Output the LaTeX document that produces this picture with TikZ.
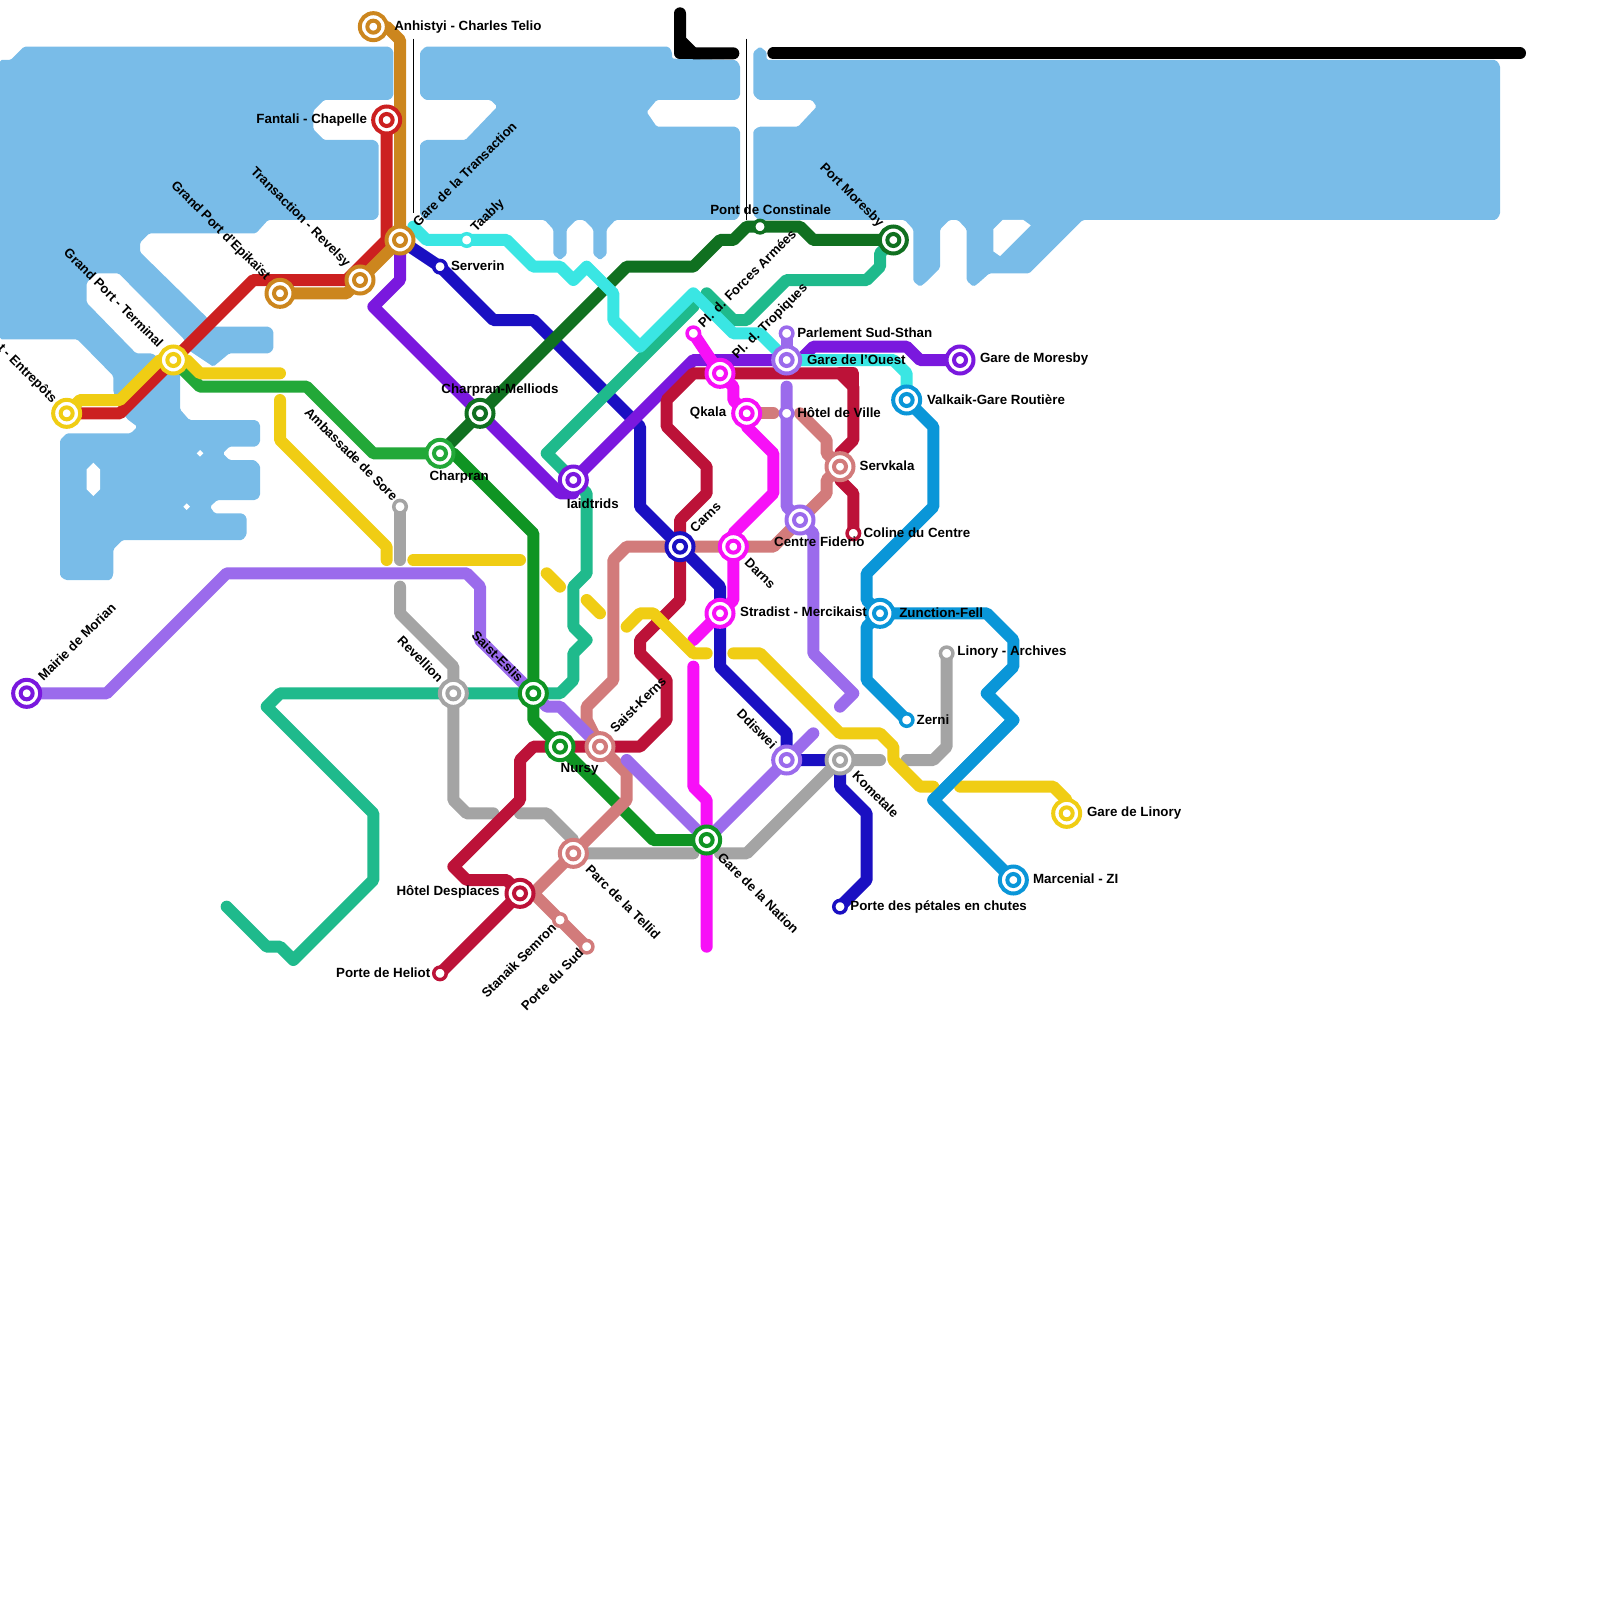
\documentclass[tikz,border=0pt]{standalone}
\usepackage{fontspec}
\setmainfont{Liberation Sans}
\definecolor{water}{HTML}{79BCE8}
\definecolor{cred}{HTML}{CC2020}
\definecolor{corange}{HTML}{CC861E}
\definecolor{cpurple}{HTML}{7A18DE}
\definecolor{ccyan}{HTML}{3AE6E3}
\definecolor{cdkblue}{HTML}{1A0FC2}
\definecolor{cdkgreen}{HTML}{107020}
\definecolor{cgreen}{HTML}{22A838}
\definecolor{cgreenb}{HTML}{0F9423}
\definecolor{cyellow}{HTML}{F0CD14}
\definecolor{clav}{HTML}{9B6BEC}
\definecolor{cgray}{HTML}{A4A4A4}
\definecolor{cteal}{HTML}{1FBA8C}
\definecolor{ccrim}{HTML}{BC1238}
\definecolor{csalmon}{HTML}{D27B7B}
\definecolor{cmag}{HTML}{F710F7}
\definecolor{cblue}{HTML}{0A96D8}
\tikzset{
  metro/.style={line width=6pt,line cap=round,line join=round,draw=#1},
  stouter/.style={circle,inner sep=0pt,minimum size=13.5pt,line width=2pt,draw=#1,fill=white},
  stinner/.style={circle,inner sep=0pt,minimum size=6pt,line width=2pt,draw=#1,fill=white},
  stsmall/.style={circle,inner sep=0pt,minimum size=6.25pt,line width=1.75pt,draw=#1,fill=white},
  lab/.style={font=\fontsize{6.67pt}{8pt}\selectfont\bfseries,inner sep=0pt,text=black,yshift=-0.7pt},
  labr/.style={font=\fontsize{6.55pt}{8pt}\selectfont\bfseries,inner sep=0pt,text=black},
  labE/.style={lab,anchor=west},
  labW/.style={lab,anchor=east},
  labNE/.style={labr,anchor=west,rotate=45},
  labSE/.style={labr,anchor=west,rotate=-45},
  labNW/.style={labr,anchor=east,rotate=-45},
  labSW/.style={labr,anchor=east,rotate=45},
  labC/.style={lab,anchor=center},
  wat/.style={fill=water,rounded corners=0.8pt}
}
\newcommand{\bigst}[2]{\node[stouter=#2] (#1o) at (#1) {};\node[stinner=#2] (#1i) at (#1) {};}
\newcommand{\smallst}[2]{\node[stsmall=#2] (#1s) at (#1) {};}
\begin{document}
\begin{tikzpicture}[x=6.66667pt,y=-6.66667pt]
\useasboundingbox (0,0) rectangle (120,120);
\clip (0,0) rectangle (120,120);
% stations
\foreach \n/\c/\r in {Anh/28/2,Fan/29/9,GTr/30/18,Rev/27/21,Epi/21/22,Ter/13/27,Ent/5/31,Cha/33/34,Mel/36/31,Iai/43/36,Taa/35/18,Ser/33/20,Pon/57/17,PMo/67/18,For/52/25,Tro/54/28,Qka/56/31,HdV/59/31,Par/59/25,GOu/59/27,GMo/72/27,Val/68/30,Svk/63/35,Col/64/40,Fid/60/39,Dar/55/41,Car/51/41,Str/54/46,Zun/66/46,LiA/71/49,Zer/68/54,Kom/63/57,Ddi/59/57,Nat/53/63,Esl/40/52,Rvl/34/52,Mai/2/52,Nur/42/56,Ker/45/56,Tel/43/64,Des/39/67,Sta/42/69,Sud/44/71,Hel/33/73,Pet/63/68,Mar/76/66,GLi/80/61,Sor/30/38}
  {\coordinate (\n) at (\c,\r);}
% water
\path[wat] (0,4.5)--(0.8,4.5)--(1.8,3.5)--(29.2,3.5)--(29.5,3.8)--(29.5,7.2)--(29.2,7.5)--(24.3,7.5)--(23.5,8.3)--(23.5,9.7)--(24.3,10.5)--(28.1,10.5)--(28.4,10.8)--(28.4,16.2)--(28.1,16.5)--(20.1,16.5)--(19.2,17.5)--(11.2,17.5)--(10.5,18.2)--(10.5,18.9)--(15.5,23.8)--(16,24.5)--(20.2,24.5)--(20.5,24.8)--(20.5,26.2)--(20.2,26.5)--(17.2,26.5)--(16,27.5)--(14.2,26.3)--(13.8,25.44)--(8.9,20.5)--(7.2,20.5)--(6.5,21.2)--(6.5,22.7)--(10.2,26.5)--(11.4,26.5)--(13,27.6)--(13.5,28)--(13.5,30.7)--(14.2,31.5)--(19.2,31.5)--(19.5,31.8)--(19.5,33.2)--(19.2,33.5)--(17.2,33.5)--(16.7,34)--(17.2,34.5)--(19.1,34.5)--(19.5,34.9)--(19.5,37.2)--(19.2,37.5)--(16.3,37.5)--(15.75,38)--(16.1,38.5)--(18.2,38.5)--(18.5,38.8)--(18.5,40.1)--(18.2,40.5)--(9.2,40.5)--(8.5,41.2)--(8.5,43.1)--(8.3,43.5)--(4.9,43.5)--(4.5,43.2)--(4.5,33)--(5,32.5)--(9.8,32.5)--(10.3,32)--(9.5,31.4)--(8.5,29.4)--(8.5,28.2)--(5.8,25.45)--(0,25.45)--cycle;
\path[wat] (31.9,3.5)--(50.15,3.5)--(50.4,3.9)--(50.4,4.4)--(55.2,4.5)--(55.5,4.9)--(55.5,7.2)--(55.2,7.5)--(49.25,7.5)--(48.5,8.4)--(49.25,9.5)--(55.2,9.5)--(55.5,9.8)--(55.5,16.1)--(55.2,16.5)--(46.15,16.5)--(45.5,17.2)--(45.5,19.1)--(45,19.5)--(44.5,19.1)--(44.5,17.2)--(43.8,16.5)--(43.2,16.5)--(42.5,17.2)--(42.5,19.1)--(42,19.5)--(41.5,19.1)--(41.5,17.2)--(40.85,16.5)--(31.9,16.5)--(31.5,16.1)--(31.5,10.8)--(31.9,10.5)--(34.9,10.5)--(37.3,8)--(36.8,7.5)--(31.9,7.5)--(31.5,7.1)--(31.5,3.9)--cycle;
\path[wat] (56.5,3.9)--(57,3.5)--(57.5,3.9)--(57.5,4.5)--(112.2,4.5)--(112.5,4.9)--(112.5,16.1)--(112.2,16.5)--(81.2,16.5)--(77.2,20.5)--(74.2,20.5)--(73.3,21.3)--(73,21.5)--(72.5,21.05)--(72.5,17.2)--(71.85,16.5)--(71.2,16.5)--(70.5,17.2)--(70.5,20.1)--(69.4,21.2)--(69,21.5)--(68.5,21.1)--(68.5,17.2)--(67.85,16.5)--(56.9,16.5)--(56.5,16.1)--(56.5,9.8)--(56.9,9.5)--(59.85,9.5)--(61.25,8)--(60.9,7.5)--(56.9,7.5)--(56.5,7.1)--cycle;
\fill[white] (74.5,17.2)--(75.2,16.5)--(76.75,16.5)--(77.3,16.9)--(75,19.2)--(74.5,18.85)--cycle;
\fill[white] (7,34.7)--(7.5,35.2)--(7.5,36.7)--(7,37.2)--(6.5,36.7)--(6.5,35.2)--cycle;
\fill[white] (15,33.75)--(15.25,34)--(15,34.25)--(14.75,34)--cycle;
\fill[white] (14,37.75)--(14.25,38)--(14,38.25)--(13.75,38)--cycle;
% thin lines
\coordinate (tA1) at (31,2.9);\coordinate (tA2) at (31,16);
\coordinate (tB1) at (56,2.9);\coordinate (tB2) at (56,16.5);
\draw[black,line width=0.8pt] (tA1)--(tA2) (tB1)--(tB2);
% black
\draw[metro=black] (51,1)--(51,3)--(52,4)--(55,4);
\draw[metro=black] (51,3)--(51,4)--(52,4);
\draw[metro=black] (58,4)--(114,4);
% lines
\draw[metro=cdkblue] (GTr)--(Ser)--(37,24)--(40,24)--(48,32)--(48,38)--(Car)--(54,44)--(Str)--(54,50)--(59,55)--(Ddi)--(Kom)--(63,59)--(65,61)--(65,66)--(Pet);
\draw[metro=cdkgreen] (Cha)--(Mel)--(47,20)--(52,20)--(54,18)--(55,18)--(56,17)--(60,17)--(61,18)--(PMo);
\draw[metro=cgreen] (Ter)--(15,29)--(23,29)--(28,34)--(Cha);
\draw[metro=cgreenb] (Cha)--(34,34)--(40,40)--(Esl)--(40,54)--(Nur)--(49,63)--(Nat);
\draw[metro=cgray] (Sor)--(30,42);
\draw[metro=cgray] (30,44)--(30,46)--(34,50)--(Rvl)--(34,60)--(35,61)--(37,61);
\draw[metro=cgray] (39,61)--(41,61)--(43,63)--(Tel)--(52,64);
\draw[metro=cgray] (54,64)--(56,64)--(Kom)--(66,57);
\draw[metro=cgray] (68,57)--(70,57)--(71,56)--(LiA);
\draw[metro=cpurple] (GTr)--(30,21)--(28,23)--(Mel)--(42,37)--(43,37)--(Iai)--(52,27)--(54,27)--(GOu)--(60,27)--(61,26)--(68,26)--(69,27)--(GMo);
\draw[metro=cteal] (PMo)--(66,19)--(66,20)--(65,21)--(59,21)--(56,24)--(55,24)--(53,22);
\draw[metro=cteal] (52,23)--(41,34)--(Iai)--(44,37)--(44,43)--(43,44)--(43,47)--(44,48)--(43,49)--(43,51)--(42,52)--(Esl)--(Rvl)--(21,52)--(20,53)--(28,61)--(28,66)--(22,72)--(21,71)--(20,71)--(17,68);
\draw[metro=ccyan] (31,17)--(32,18)--(Taa)--(38,18)--(40,20)--(42,20)--(43,21)--(44,20)--(46,22)--(46,24)--(48,26)--(52,22)--(55,25)--(57,25)--(GOu)--(67,27)--(68,28)--(Val);
\draw[metro=cblue] (Val)--(70,32)--(70,38)--(65,43)--(65,45)--(Zun)--(65,47)--(65,51)--(Zer);
\draw[metro=cblue] (Zun)--(74,46)--(76,48)--(76,50)--(74,52)--(76,54)--(70,60)--(Mar);
\draw[metro=ccrim] (Des)--(38,66)--(35,66)--(34,65)--(39,60)--(39,57)--(40,56)--(Nur)--(Ker)--(48,56)--(50,54)--(50,51)--(48,49)--(48,48)--(51,45)--(Car)--(51,39)--(53,37)--(53,35)--(50,32)--(50,30)--(52,28)--(Tro)--(63,28)--(64,29)--(64,33)--(63,34)--(Svk)--(63,36)--(64,37)--(Col);
\draw[metro=ccrim] (63,28)--(64,28)--(64,29);
\draw[metro=ccrim] (Des)--(Hel);
\draw[metro=csalmon] (Qka)--(58,31);
\draw[metro=csalmon] (60,31)--(62,33)--(62,34)--(Svk)--(62,36)--(62,37)--(Fid)--(58,41)--(Dar)--(Car)--(47,41)--(46,42)--(46,51)--(44,53)--(44,54)--(Ker)--(47,58)--(47,60)--(Tel)--(40,67)--(Sta)--(Sud);
\draw[metro=clav] (Mai)--(8,52)--(17,43)--(35,43)--(36,44)--(36,48)--(Esl)--(41,53)--(42,53)--(Ker);
\draw[metro=clav] (47,57)--(Nat)--(Ddi)--(61,55);
\draw[metro=clav] (Par)--(GOu);
\draw[metro=clav] (59,29)--(HdV)--(59,38)--(Fid)--(61,40)--(61,49)--(64,52)--(63,53);
\draw[metro=cmag] (For)--(Tro)--(55,29)--(55,30)--(Qka)--(56,32)--(58,34)--(58,37)--(55,40)--(Dar)--(55,45)--(Str)--(52,48);
\draw[metro=cmag] (52,50)--(52,59)--(53,60)--(53,71);
\draw[metro=cred] (Fan)--(29,18)--(26,21)--(19,21)--(Ter)--(9,31)--(Ent);
\draw[metro=corange] (Anh)--(29,2)--(30,3)--(GTr)--(Rev)--(26,22)--(Epi);
\draw[metro=cyellow] (Ent)--(6,30)--(9,30)--(12,27)--(Ter)--(14,27)--(15,28)--(21,28);
\draw[metro=cyellow] (21,30)--(21,33)--(29,41)--(29,42);
\draw[metro=cyellow] (31,42)--(39,42);
\draw[metro=cyellow] (41,43)--(42,44);
\draw[metro=cyellow] (44,45)--(45,46);
\draw[metro=cyellow] (47,47)--(48,46)--(49,46)--(52,49)--(53,49);
\draw[metro=cyellow] (55,49)--(57,49)--(63,55)--(66,55)--(67,56)--(67,57)--(69,59)--(70,59);
\draw[metro=cyellow] (72,59)--(79,59)--(80,60)--(GLi);
% blue crossing over yellow
\draw[metro=cblue] (76,54)--(70,60);
% stations
\foreach \n/\c in {Anh/corange,Fan/cred,GTr/corange,Rev/corange,Epi/corange,Ter/cyellow,Ent/cyellow,Cha/cgreen,Mel/cdkgreen,Iai/cpurple,PMo/cdkgreen,Tro/cmag,Qka/cmag,GOu/clav,GMo/cpurple,Val/cblue,Svk/csalmon,Fid/clav,Dar/cmag,Car/cdkblue,Str/cmag,Zun/cblue,Kom/cgray,Ddi/clav,Nat/cgreenb,Esl/cgreenb,Rvl/cgray,Mai/cpurple,Nur/cgreenb,Ker/csalmon,Tel/csalmon,Des/ccrim,Mar/cblue,GLi/cyellow}
  {\bigst{\n}{\c}}
\foreach \n/\c in {Taa/ccyan,Ser/cdkblue,Pon/cdkgreen,For/cmag,HdV/clav,Par/clav,Col/ccrim,LiA/cgray,Zer/cblue,Sta/csalmon,Sud/csalmon,Hel/ccrim,Pet/cdkblue,Sor/cgray}
  {\smallst{\n}{\c}}
% labels
\node[labE] (lAnh) at (29.54,1.91) {Anhistyi - Charles Telio};
\node[labW] (lFan) at (27.55,8.88) {Fantali - Chapelle};
\node[labNE] (lGTr) at (31.1,16.8) {Gare de la Transaction};
\node[labNE] (lTaa) at (35.5,17.3) {Taably};
\node[labE] (lSer) at (33.8,19.8) {Serverin};
\node[labNW] (lRev) at (26.1,19.9) {Transaction - Revelsy};
\node[labNW] (lEpi) at (20.1,20.9) {Grand Port d'Epikaïst};
\node[labNW] (lTer) at (12.1,25.9) {Grand Port - Terminal};
\node[labNW] (lEnt) at (4.1,30.1) {t - Entrepôts};
\node[labC] (lMel) at (37.5,29.16) {Charpran-Melliods};
\node[labC] (lCha) at (34.44,35.66) {Charpran};
\node[labNW] (lSor) at (29.7,37.4) {Ambassade de Sore};
\node[labC] (lIai) at (44.46,37.65) {Iaidtrids};
\node[labNW] (lPMo) at (66.1,16.9) {Port Moresby};
\node[labC] (lPon) at (57.8,15.6) {Pont de Constinale};
\node[labNE] (lFor) at (52.5,24.4) {Pl. d. Forces Armées};
\node[labNE] (lTro) at (55.1,26.8) {Pl. d. Tropiques};
\node[labE] (lPar) at (59.77,24.87) {Parlement Sud-Sthan};
\node[labE] (lGOu) at (60.5,26.86) {Gare de l'Ouest};
\node[labE] (lGMo) at (73.47,26.86) {Gare de Moresby};
\node[labE] (lVal) at (69.5,29.85) {Valkaik-Gare Routière};
\node[labW] (lQka) at (54.5,30.84) {Qkala};
\node[labE] (lHdV) at (59.77,30.84) {Hôtel de Ville};
\node[labE] (lSvk) at (64.44,34.82) {Servkala};
\node[labE] (lCol) at (64.74,39.87) {Coline du Centre};
\node[labC] (lFid) at (61.45,40.56) {Centre Fiderio};
\node[labNE] (lCar) at (51.9,39.8) {Carns};
\node[labSE] (lDar) at (56,42) {Darns};
\node[labE] (lStr) at (55.48,45.76) {Stradist - Mercikaist};
\node[labE] (lZun) at (67.42,45.84) {Zunction-Fell};
\node[labE] (lLiA) at (71.78,48.83) {Linory - Archives};
\node[labE] (lZer) at (68.72,53.88) {Zerni};
\node[labSE] (lKom) at (64.1,58) {Kometale};
\node[labNW] (lDdi) at (58.1,56) {Ddiswei};
\node[labSE] (lNat) at (54,64.1) {Gare de la Nation};
\node[labE] (lGLi) at (81.5,60.84) {Gare de Linory};
\node[labE] (lMar) at (77.45,65.8) {Marcenial - ZI};
\node[labE] (lPet) at (63.75,67.9) {Porte des pétales en chutes};
\node[labNE] (lMai) at (3,50.9) {Mairie de Morian};
\node[labNW] (lRvl) at (33.1,51) {Revellion};
\node[labNW] (lEsl) at (39.1,51) {Saist-Eslis};
\node[labNE] (lKer) at (45.9,54.8) {Saist-Kerns};
\node[labC] (lNur) at (43.47,57.6) {Nursy};
\node[labSE] (lTel) at (44.1,65) {Parc de la Tellid};
\node[labW] (lDes) at (37.5,66.8) {Hôtel Desplaces};
\node[labW] (lHel) at (32.3,72.85) {Porte de Heliot};
\node[labSW] (lSta) at (41.55,69.4) {Stanaik Semron};
\node[labSW] (lSud) at (43.6,71.3) {Porte du Sud};
\end{tikzpicture}
\end{document}
